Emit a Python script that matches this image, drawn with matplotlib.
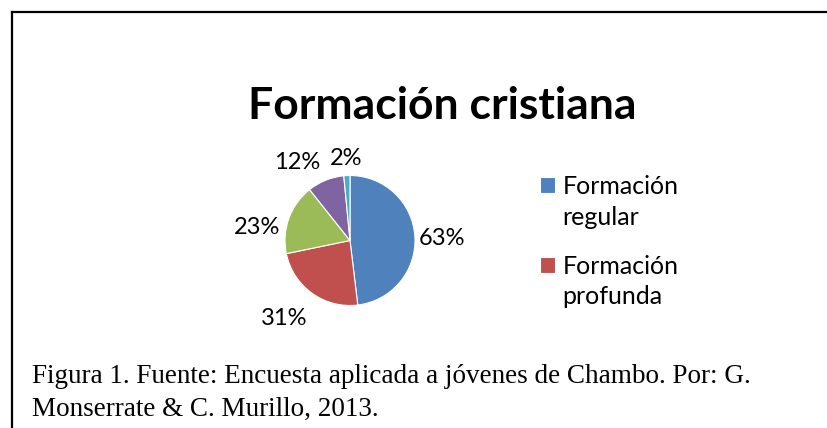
import matplotlib
matplotlib.use("Agg")
import matplotlib.pyplot as plt
import numpy as np
from matplotlib.lines import Line2D
from matplotlib.patches import Rectangle
from matplotlib.legend_handler import HandlerPatch

# data (labels show the raw percentages)
categories = ["Formación regular", "Formación profunda", "c3", "c4", "c5"]
values = [63, 31, 23, 12, 2]
colors = ["#4F81BD", "#C0504D", "#9BBB59", "#8064A2", "#4BACC6"]
legend_labels = ["Formación\nregular", "Formación\nprofunda"]
# best-fit label placement: radius factor and angle shift (deg) from slice middle
label_dist = [1.42, 1.54, 1.44, 1.48, 1.29]
label_shift = [-1.2, -5.2, 11.0, 11.4, 0.0]

title = "Formación cristiana"
caption = ["Figura 1. Fuente: Encuesta aplicada a jóvenes de Chambo. Por: G.",
           "Monserrate & C. Murillo, 2013."]

W, H = 827, 428
fig = plt.figure(figsize=(W / 100, H / 100), dpi=100)
fig.patch.set_facecolor("white")

# frame of the chart box (top and left edges visible)
fig.add_artist(Line2D([12 / W, 1], [1 - 12 / H, 1 - 12 / H], color="black", lw=1.6,
                      transform=fig.transFigure))
fig.add_artist(Line2D([12 / W, 12 / W], [0, 1 - 12 / H], color="black", lw=1.6,
                      transform=fig.transFigure))

# pie
cx, cy, r = 350, 240.5, 65
ax = fig.add_axes([(cx - r) / W, (H - cy - r) / H, 2 * r / W, 2 * r / H])
wedges, _ = ax.pie(values, colors=colors, startangle=90, counterclock=False,
                   radius=1.0, wedgeprops=dict(linewidth=0.8, edgecolor="white"))
ax.set_xlim(-1, 1)
ax.set_ylim(-1, 1)
ax.set_aspect("auto")
ax.axis("off")

for w, v, d, s in zip(wedges, values, label_dist, label_shift):
    ang = np.deg2rad((w.theta1 + w.theta2) / 2 + s)
    ax.text(d * np.cos(ang), d * np.sin(ang), f"{v}%", ha="center",
            va="center_baseline", fontsize=17, family="Lato", clip_on=False)

fig.text(442 / W, 1 - 119 / H, title, ha="center", va="baseline", fontsize=32,
         fontweight="bold", family="Lato")


# square beside the first line of a two-line label
def first_line_square(legend, orig_handle, xdescent, ydescent, width, height, fontsize):
    return Rectangle((-xdescent, -ydescent + 0.7 * fontsize), width, height)


leg = fig.legend(wedges[:2], legend_labels, loc="upper left",
                 bbox_to_anchor=(540 / W, 1 - 175 / H), frameon=False,
                 prop=dict(family="Lato", size=18), handlelength=0.6,
                 handleheight=0.6, handletextpad=0.3, labelspacing=1.05,
                 borderpad=0, borderaxespad=0,
                 handler_map={w: HandlerPatch(patch_func=first_line_square)
                              for w in wedges[:2]})
for t in leg.get_texts():
    t.set_linespacing(1.4)

fig.text(32 / W, 1 - 383 / H, caption[0], ha="left", va="baseline", fontsize=19.5,
         family="Liberation Serif")
fig.text(32 / W, 1 - 415.5 / H, caption[1], ha="left", va="baseline", fontsize=19.5,
         family="Liberation Serif")

fig.savefig("out.png", dpi=100)
